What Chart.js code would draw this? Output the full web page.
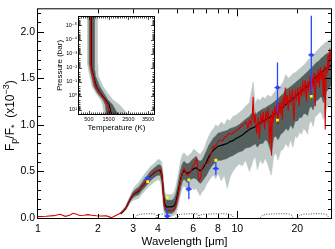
<!DOCTYPE html>
<html>
<head>
<meta charset="utf-8">
<script src="https://cdn.jsdelivr.net/npm/chart.js@4.4.1/dist/chart.umd.min.js"></script>
<style>
html, body { margin: 0; padding: 0; background: #fff; }
#wrap { position: relative; width: 335px; height: 249px; }
#main { position: absolute; left: 0; top: 0; }
#inset { position: absolute; left: 50px; top: 10px; }
</style>
</head>
<body>
<div id="wrap">
<canvas id="main" width="335" height="249"></canvas>
<canvas id="inset" width="110" height="126"></canvas>
</div>
<script>
// best-fit model spectrum (red)
const wlModel = [
    1.00, 1.10, 1.20, 1.29, 1.37, 1.44, 1.50, 1.56, 1.62, 1.70,
    1.78, 1.86, 1.96, 2.08, 2.20, 2.28, 2.33, 2.40, 2.47, 2.56,
    2.66, 2.75, 2.82, 2.88, 2.93, 3.00, 3.08, 3.16, 3.25, 3.35,
    3.45, 3.55, 3.65, 3.75, 3.85, 3.97, 4.06, 4.13, 4.18, 4.22,
    4.26, 4.30, 4.36, 4.45, 4.55, 4.65, 4.75, 4.85,
    4.92, 4.98, 5.05, 5.12, 5.19, 5.27, 5.35, 5.42, 5.50, 5.58,
    5.66, 5.75, 5.85, 5.95, 6.05, 6.16, 6.25, 6.33, 6.42, 6.52,
    6.62, 6.75, 6.95, 7.10, 7.25, 7.40, 7.55, 7.70, 7.90, 8.07,
    8.25, 8.45, 8.65, 8.87, 9.10, 9.35, 9.60, 9.90, 10.2, 10.5,
    10.8, 11.1,
    11.3, 11.5, 11.7, 11.9, 12.0, 12.15, 12.3, 12.5, 12.7, 12.9,
    13.1, 13.3, 13.5, 13.7, 13.9, 14.1, 14.3, 14.5, 14.7, 14.85,
    15.0, 15.2, 15.4, 15.6, 15.8, 16.0, 16.2, 16.4, 16.6, 16.8,
    17.0, 17.2, 17.4, 17.6, 17.8, 18.0, 18.3, 18.6, 18.9, 19.2,
    19.5, 19.8, 20.1, 20.4, 20.7, 21.0, 21.3, 21.6, 21.9, 22.2,
    22.5, 22.8, 23.1, 23.4, 23.7, 24.0, 24.3, 24.6, 24.9, 25.2,
    25.5, 25.8, 26.1, 26.4, 26.7, 27.0, 27.3, 27.6, 27.9, 28.2,
    28.5, 28.8, 29.1, 29.5
];
const fluxModel = [
    0.015, 0.018, 0.025, 0.040, 0.018, 0.030, 0.050, 0.040, 0.027, 0.030,
    0.036, 0.030, 0.024, 0.022, 0.024, 0.012, 0.003, 0.015, 0.030, 0.045,
    0.070, 0.100, 0.140, 0.185, 0.220, 0.255, 0.275, 0.290, 0.310, 0.350,
    0.380, 0.420, 0.445, 0.475, 0.495, 0.505, 0.520, 0.520, 0.470, 0.380,
    0.230, 0.130, 0.095, 0.085, 0.080, 0.080, 0.082, 0.100,
    0.130, 0.190, 0.250, 0.330, 0.400, 0.460, 0.520, 0.530, 0.500, 0.460,
    0.460, 0.480, 0.500, 0.550, 0.570, 0.600, 0.640, 0.550, 0.400, 0.420,
    0.520, 0.570, 0.580, 0.590, 0.620, 0.700, 0.770, 0.760, 0.800, 0.830,
    0.840, 0.830, 0.870, 0.880, 0.910, 0.900, 0.920, 0.940, 0.960, 0.990,
    1.010, 1.030,
    0.96, 1.05, 1.00, 1.12, 1.30, 1.02, 1.10, 0.90, 1.08, 0.85,
    1.10, 1.02, 1.14, 0.95, 1.15, 1.05, 1.18, 0.80, 1.12, 0.67,
    1.15, 1.05, 1.20, 1.10, 1.22, 1.00, 1.24, 1.12, 1.26, 1.05,
    1.30, 1.18, 1.40, 1.22, 1.32, 1.15, 1.35, 1.25, 1.38, 1.05,
    1.36, 1.28, 1.40, 1.20, 1.42, 1.30, 1.45, 1.35, 1.48, 1.25,
    1.47, 1.38, 1.52, 1.30, 1.50, 1.42, 1.56, 1.20, 1.55, 1.45,
    1.60, 1.40, 1.62, 1.50, 1.58, 1.30, 1.64, 0.95, 1.62, 1.55,
    1.75, 1.58, 1.82, 1.68
];

// median model and 1 / 2 sigma envelopes
const wlBand = [
    2.6, 2.75, 2.9, 3.0, 3.1, 3.2, 3.3, 3.4, 3.5, 3.6,
    3.7, 3.8, 3.9, 4.0, 4.1, 4.17, 4.22, 4.27, 4.32, 4.4,
    4.55, 4.7, 4.82, 4.92, 5.0, 5.1, 5.2, 5.3, 5.4, 5.5,
    5.6, 5.75, 5.9, 6.05, 6.2, 6.35, 6.5, 6.65, 6.8, 7.0,
    7.2, 7.4, 7.6, 7.8, 8.0, 8.3, 8.6, 8.9, 9.2, 9.5,
    9.8, 10.2, 10.6, 11.0, 11.5, 12.0, 12.3, 12.6, 13.0, 13.4,
    13.8, 14.2, 14.8, 15.2, 15.6, 16.0, 16.5, 17.0, 17.5, 18.0,
    18.5, 19.0, 19.5, 20.0, 20.5, 21.0, 21.5, 22.0, 22.5, 23.0,
    23.5, 24.0, 24.5, 25.0, 25.5, 26.0, 26.5, 27.0, 27.5, 28.0,
    28.5, 29.0, 29.5
];
const bandMed = [
    0.045, 0.10, 0.20, 0.25, 0.27, 0.29, 0.33, 0.36, 0.40, 0.43,
    0.46, 0.48, 0.50, 0.51, 0.51, 0.47, 0.37, 0.23, 0.15, 0.12,
    0.12, 0.12, 0.13, 0.17, 0.24, 0.33, 0.42, 0.48, 0.51, 0.49,
    0.48, 0.49, 0.51, 0.53, 0.54, 0.52, 0.51, 0.52, 0.55, 0.60,
    0.66, 0.70, 0.73, 0.75, 0.77, 0.78, 0.79, 0.80, 0.82, 0.83,
    0.85, 0.87, 0.89, 0.92, 0.95, 0.97, 0.98, 1.00, 1.02, 1.04,
    1.05, 1.07, 1.09, 1.11, 1.13, 1.14, 1.17, 1.19, 1.22, 1.24,
    1.26, 1.28, 1.30, 1.32, 1.34, 1.36, 1.38, 1.40, 1.42, 1.44,
    1.46, 1.48, 1.50, 1.52, 1.53, 1.55, 1.57, 1.58, 1.60, 1.61,
    1.62, 1.63, 1.64
];
const darkLo = [
    0.040, 0.09, 0.18, 0.22, 0.24, 0.25, 0.29, 0.32, 0.35, 0.38,
    0.41, 0.43, 0.45, 0.46, 0.46, 0.40, 0.28, 0.14, 0.08, 0.05,
    0.05, 0.05, 0.07, 0.10, 0.16, 0.24, 0.33, 0.39, 0.42, 0.40,
    0.38, 0.40, 0.42, 0.43, 0.42, 0.40, 0.37, 0.39, 0.42, 0.46,
    0.51, 0.55, 0.58, 0.60, 0.62, 0.62, 0.63, 0.64, 0.66, 0.67,
    0.69, 0.71, 0.72, 0.75, 0.76, 0.78, 0.80, 0.76, 0.80, 0.80,
    0.84, 0.82, 0.70, 0.86, 0.88, 0.84, 0.90, 0.92, 0.96, 0.94,
    1.00, 0.96, 1.04, 1.04, 1.08, 1.08, 1.12, 1.12, 1.10, 1.18,
    1.20, 1.16, 1.24, 1.26, 1.27, 1.30, 1.30, 1.24, 1.30, 1.36,
    1.38, 1.40, 1.42
];
const darkHi = [
    0.055, 0.115, 0.22, 0.28, 0.31, 0.33, 0.37, 0.41, 0.44, 0.48,
    0.51, 0.53, 0.55, 0.57, 0.57, 0.54, 0.46, 0.32, 0.23, 0.19,
    0.19, 0.19, 0.21, 0.26, 0.33, 0.43, 0.52, 0.58, 0.61, 0.59,
    0.58, 0.59, 0.62, 0.64, 0.66, 0.62, 0.61, 0.62, 0.66, 0.72,
    0.78, 0.82, 0.86, 0.88, 0.91, 0.92, 0.93, 0.94, 0.96, 0.97,
    0.98, 1.00, 1.03, 1.06, 1.09, 1.14, 1.10, 1.13, 1.15, 1.17,
    1.18, 1.20, 1.22, 1.24, 1.26, 1.28, 1.31, 1.33, 1.38, 1.39,
    1.41, 1.43, 1.45, 1.47, 1.49, 1.51, 1.53, 1.55, 1.57, 1.59,
    1.61, 1.63, 1.65, 1.67, 1.68, 1.70, 1.72, 1.73, 1.75, 1.76,
    1.77, 1.78, 1.79
];
const lightLo = [
    0.035, 0.08, 0.16, 0.19, 0.20, 0.21, 0.25, 0.28, 0.31, 0.34,
    0.36, 0.38, 0.40, 0.41, 0.40, 0.33, 0.20, 0.08, 0.03, 0.02,
    0.02, 0.02, 0.03, 0.05, 0.10, 0.17, 0.26, 0.32, 0.35, 0.32,
    0.28, 0.30, 0.33, 0.30, 0.32, 0.28, 0.24, 0.28, 0.30, 0.36,
    0.40, 0.44, 0.46, 0.42, 0.48, 0.40, 0.46, 0.32, 0.44, 0.50,
    0.54, 0.58, 0.56, 0.62, 0.50, 0.62, 0.66, 0.52, 0.62, 0.58,
    0.64, 0.58, 0.46, 0.66, 0.70, 0.62, 0.72, 0.74, 0.80, 0.76,
    0.84, 0.76, 0.88, 0.86, 0.92, 0.90, 0.96, 0.94, 0.90, 1.02,
    1.04, 0.98, 1.08, 1.10, 1.12, 1.14, 1.12, 1.06, 1.10, 1.18,
    1.20, 1.21, 1.22
];
const lightHi = [
    0.065, 0.13, 0.24, 0.31, 0.35, 0.38, 0.42, 0.46, 0.50, 0.53,
    0.56, 0.58, 0.60, 0.63, 0.62, 0.60, 0.53, 0.38, 0.28, 0.25,
    0.25, 0.25, 0.28, 0.34, 0.42, 0.52, 0.62, 0.68, 0.70, 0.68,
    0.66, 0.68, 0.70, 0.74, 0.72, 0.70, 0.68, 0.71, 0.74, 0.82,
    0.88, 0.93, 0.96, 1.00, 0.98, 1.03, 1.00, 1.06, 1.04, 1.09,
    1.10, 1.13, 1.16, 1.20, 1.24, 1.46, 1.22, 1.28, 1.26, 1.30,
    1.28, 1.32, 1.30, 1.34, 1.37, 1.40, 1.42, 1.46, 1.54, 1.50,
    1.52, 1.55, 1.56, 1.58, 1.60, 1.62, 1.64, 1.66, 1.69, 1.71,
    1.73, 1.75, 1.77, 1.79, 1.81, 1.83, 1.85, 1.86, 1.88, 1.89,
    1.90, 1.91, 1.92
];

// observed eclipse depths and band-integrated model
const obsWl = [3.55, 4.45, 5.71, 7.8, 15.9, 23.5];
const obsFlux = [0.43, 0.02, 0.31, 0.53, 1.40, 1.75];
const obsErr = [0.02, 0.08, 0.11, 0.07, 0.27, 0.42];
const binWl = [3.55, 4.45, 5.71, 7.8, 15.9, 23.5];
const binFlux = [0.39, 0.22, 0.41, 0.62, 1.05, 1.305];

// filter transmission curves (dotted)
const filterResp = [0, 0.03, 0.041, 0.044, 0.047, 0.043, 0.03, 0];
const irac1Wl = [3.08, 3.15, 3.25, 3.45, 3.65, 3.85, 3.92, 3.98];
const irac2Wl = [3.9, 3.98, 4.1, 4.4, 4.7, 4.95, 5.02, 5.1];
const irac3Wl = [4.9, 5.0, 5.2, 5.6, 6.0, 6.3, 6.4, 6.5];
const irac4Wl = [6.3, 6.45, 6.8, 7.5, 8.3, 9.0, 9.4, 9.6];
const irs16Wl = [13.0, 13.4, 14.0, 15.5, 17.0, 18.2, 18.7, 19.0];
const mips24Wl = [20.0, 20.6, 21.5, 23.5, 25.5, 27.5, 28.3, 28.8];

const xTickVals = [1, 2, 3, 4, 5, 6, 7, 8, 9, 10, 20];
const xTickLabels = [1, 2, 3, 4, 6, 8, 10, 20];
const yTickVals = [0, 0.5, 1.0, 1.5, 2.0];

// inset: temperature-pressure profiles
const pressure = [2.5e-6, 1e-5, 1e-4, 1e-3, 6e-3, 1.6e-2, 4e-2, 0.22, 0.65, 1.95, 4.4, 20];
const bestT = [590, 590, 590, 592, 600, 640, 715, 835, 1050, 1300, 1465, 1520];
const medT = [620, 620, 620, 622, 630, 670, 745, 880, 1090, 1360, 1530, 1640];
const darkLoT = [520, 520, 520, 522, 530, 570, 635, 750, 930, 1215, 1330, 1385];
const darkHiT = [780, 780, 780, 785, 800, 810, 835, 1050, 1250, 1465, 1700, 1965];
const lightLoT = [430, 430, 430, 432, 440, 480, 550, 665, 850, 1100, 1200, 1265];
const lightHiT = [940, 940, 940, 945, 960, 965, 980, 1215, 1450, 1715, 2050, 2465];
const tTickVals = [500, 1500, 2500, 3500];
const pTickVals = [1e-5, 1e-4, 1e-3, 1e-2, 1e-1, 1, 10];

const FONT = '"Liberation Sans", Arial, Helvetica, sans-serif';
Chart.defaults.font.family = FONT;
Chart.defaults.color = '#000';

const DARK = '#54605e';
const LIGHT = '#bec8c7';

const xy = (xs, ys) => xs.map((v, i) => ({ x: v, y: ys[i] }));

function bandLine(data, color, fillPrev, order) {
    return {
        data: data, borderColor: color, borderWidth: 0.6, pointRadius: 0,
        fill: fillPrev ? '-1' : false, backgroundColor: color, order: order
    };
}

function filterLine(wl) {
    return {
        data: xy(wl, filterResp), borderColor: '#333', borderWidth: 0.9,
        borderDash: [1, 1.5], pointRadius: 0, order: 6
    };
}

// inward ticks + frame, IDL style
const mainFrame = {
    id: 'mainFrame',
    afterDraw(chart) {
        const { ctx, chartArea: a, scales: { x, y } } = chart;
        ctx.save();
        ctx.strokeStyle = '#000';
        ctx.lineWidth = 1;
        ctx.strokeRect(a.left - 0.5, a.top - 0.5, a.right - a.left + 1, a.bottom - a.top + 1);
        ctx.beginPath();
        for (let i = 1; i <= 22; i++) {
            const py = Math.round(y.getPixelForValue(i / 10)) + 0.5;
            const len = i % 5 === 0 ? 6 : 3;
            ctx.moveTo(a.left, py); ctx.lineTo(a.left + len, py);
            ctx.moveTo(a.right, py); ctx.lineTo(a.right - len, py);
        }
        xTickVals.forEach(v => {
            if (v === 1) return;
            const px = Math.round(x.getPixelForValue(v)) + 0.5;
            const len = v === 10 ? 7 : 4;
            ctx.moveTo(px, a.bottom); ctx.lineTo(px, a.bottom - len);
            ctx.moveTo(px, a.top); ctx.lineTo(px, a.top + len);
        });
        ctx.stroke();

        // axis titles
        ctx.fillStyle = '#000';
        ctx.textAlign = 'center';
        ctx.textBaseline = 'middle';
        ctx.font = '11.5px ' + FONT;
        ctx.fillText('Wavelength [\u03bcm]', (a.left + a.right) / 2, 242);

        const parts = [
            ['F', 12, 0], ['p', 9, 3], ['/F', 12, 0], ['*', 9, 3],
            ['  (x10', 12, 0], ['\u22123', 9, -5], [')', 12, 0]
        ];
        let total = 0;
        parts.forEach(p => { ctx.font = p[1] + 'px ' + FONT; total += ctx.measureText(p[0]).width; });
        ctx.translate(14, (a.top + a.bottom) / 2 + 2);
        ctx.rotate(-Math.PI / 2);
        ctx.textAlign = 'left';
        ctx.textBaseline = 'alphabetic';
        let cx = -total / 2;
        parts.forEach(p => {
            ctx.font = p[1] + 'px ' + FONT;
            ctx.fillText(p[0], cx, p[2]);
            cx += ctx.measureText(p[0]).width;
        });
        ctx.restore();
    }
};

const errorBars = {
    id: 'errorBars',
    afterDatasetDraw(chart, args) {
        if (args.index !== 2) return;
        const { ctx, chartArea: a, scales: { x, y } } = chart;
        ctx.save();
        ctx.beginPath();
        ctx.rect(a.left, a.top, a.right - a.left, a.bottom - a.top);
        ctx.clip();
        ctx.strokeStyle = '#2a46ff';
        ctx.lineWidth = 1.3;
        obsWl.forEach((w, i) => {
            const px = x.getPixelForValue(w);
            const py = y.getPixelForValue(obsFlux[i]);
            ctx.beginPath();
            ctx.moveTo(px, y.getPixelForValue(obsFlux[i] - obsErr[i]));
            ctx.lineTo(px, y.getPixelForValue(obsFlux[i] + obsErr[i]));
            ctx.moveTo(px - 3, py);
            ctx.lineTo(px + 3, py);
            ctx.stroke();
        });
        ctx.restore();
    }
};

new Chart(document.getElementById('main'), {
    type: 'line',
    data: {
        datasets: [
            { data: xy(binWl, binFlux), showLine: false, pointStyle: 'rect', pointRadius: 2, backgroundColor: '#ffff00', borderWidth: 0, order: 0 },
            { data: xy(obsWl, obsFlux), showLine: false, pointRadius: 2, backgroundColor: '#2a46ff', borderWidth: 0, order: 1 },
            { data: xy(wlModel, fluxModel), borderColor: '#d40000', borderWidth: 1.1, pointRadius: 0, order: 2 },
            { data: xy(wlBand, bandMed), borderColor: '#000', borderWidth: 1.2, pointRadius: 0, order: 3 },
            bandLine(xy(wlBand, darkLo), DARK, false, 4),
            bandLine(xy(wlBand, darkHi), DARK, true, 4),
            bandLine(xy(wlBand, lightLo), LIGHT, false, 5),
            bandLine(xy(wlBand, lightHi), LIGHT, true, 5),
            filterLine(irac1Wl), filterLine(irac2Wl), filterLine(irac3Wl),
            filterLine(irac4Wl), filterLine(irs16Wl), filterLine(mips24Wl)
        ]
    },
    options: {
        responsive: false,
        devicePixelRatio: 1,
        animation: false,
        events: [],
        layout: { padding: { left: 0, right: 2, top: 1, bottom: 0 } },
        plugins: { legend: { display: false }, tooltip: { enabled: false } },
        scales: {
            x: {
                type: 'logarithmic', min: 1, max: 29.5,
                afterBuildTicks: s => { s.ticks = xTickVals.map(v => ({ value: v })); },
                afterFit: s => { s.height = 31; },
                grid: { display: false, drawTicks: false },
                border: { display: false },
                ticks: {
                    autoSkip: false, maxRotation: 0, padding: 5,
                    font: { size: 10.5 },
                    callback: v => xTickLabels.includes(v) ? String(v) : ''
                }
            },
            y: {
                min: 0, max: 2.24,
                afterBuildTicks: s => { s.ticks = yTickVals.map(v => ({ value: v })); },
                afterFit: s => { s.width = 38; },
                grid: { display: false, drawTicks: false },
                border: { display: false },
                ticks: { padding: 3, font: { size: 10.5 }, callback: v => v.toFixed(1) }
            }
        }
    },
    plugins: [errorBars, mainFrame]
});

// inset
const sup = { '-': '\u207b', '0': '\u2070', '1': '\u00b9', '2': '\u00b2', '3': '\u00b3', '4': '\u2074', '5': '\u2075' };

function polygon(lo, hi) {
    const left = pressure.map((p, i) => ({ x: lo[i], y: p }));
    const right = pressure.map((p, i) => ({ x: hi[i], y: p })).reverse();
    return left.concat(right);
}

const insetFrame = {
    id: 'insetFrame',
    beforeDraw(chart) {
        const { ctx, chartArea: a } = chart;
        ctx.save();
        ctx.fillStyle = '#fff';
        ctx.fillRect(a.left, a.top, a.right - a.left, a.bottom - a.top);
        ctx.restore();
    },
    afterDraw(chart) {
        const { ctx, chartArea: a, scales: { x, y } } = chart;
        ctx.save();
        ctx.strokeStyle = '#000';
        ctx.lineWidth = 1;
        ctx.strokeRect(a.left - 0.5, a.top - 0.5, a.right - a.left + 1, a.bottom - a.top + 1);
        ctx.beginPath();
        for (let t = 100; t < 3800; t += 100) {
            const px = Math.round(x.getPixelForValue(t)) + 0.5;
            const len = (t - 500) % 1000 === 0 ? 3 : 1.5;
            ctx.moveTo(px, a.bottom); ctx.lineTo(px, a.bottom - len);
            ctx.moveTo(px, a.top); ctx.lineTo(px, a.top + len);
        }
        for (let e = -6; e <= 1; e++) {
            for (let m = 1; m < 10; m++) {
                const v = m * Math.pow(10, e);
                if (v < y.min || v > y.max) continue;
                const py = Math.round(y.getPixelForValue(v)) + 0.5;
                const len = m === 1 ? 3 : 1.5;
                ctx.moveTo(a.left, py); ctx.lineTo(a.left + len, py);
                ctx.moveTo(a.right, py); ctx.lineTo(a.right - len, py);
            }
        }
        ctx.lineWidth = 0.7;
        ctx.stroke();

        ctx.fillStyle = '#000';
        ctx.textAlign = 'center';
        ctx.textBaseline = 'middle';
        ctx.font = '8px ' + FONT;
        ctx.fillText('Temperature (K)', (a.left + a.right) / 2, 117.5);
        ctx.translate(12, (a.top + a.bottom) / 2);
        ctx.rotate(-Math.PI / 2);
        ctx.textBaseline = 'alphabetic';
        ctx.fillText('Pressure (bar)', 0, 0);
        ctx.restore();
    }
};

new Chart(document.getElementById('inset'), {
    type: 'line',
    data: {
        datasets: [
            { data: pressure.map((p, i) => ({ x: bestT[i], y: p })), borderColor: '#e00000', borderWidth: 1.3, pointRadius: 0, order: 0 },
            { data: pressure.map((p, i) => ({ x: medT[i], y: p })), borderColor: '#000', borderWidth: 1, pointRadius: 0, order: 1 },
            { data: polygon(darkLoT, darkHiT), borderColor: DARK, borderWidth: 0.5, backgroundColor: DARK, fill: 'shape', pointRadius: 0, order: 2 },
            { data: polygon(lightLoT, lightHiT), borderColor: LIGHT, borderWidth: 0.5, backgroundColor: LIGHT, fill: 'shape', pointRadius: 0, order: 3 }
        ]
    },
    options: {
        responsive: false,
        devicePixelRatio: 1,
        animation: false,
        events: [],
        layout: { padding: { left: 0, right: 6, top: 7, bottom: 0 } },
        plugins: { legend: { display: false }, tooltip: { enabled: false } },
        scales: {
            x: {
                type: 'linear', min: 0, max: 3800,
                afterBuildTicks: s => { s.ticks = tTickVals.map(v => ({ value: v })); },
                afterFit: s => { s.height = 22; },
                grid: { display: false, drawTicks: false },
                border: { display: false },
                ticks: { autoSkip: false, maxRotation: 0, padding: 2, font: { size: 5.5 }, callback: v => String(v) }
            },
            y: {
                type: 'logarithmic', reverse: true, min: 2.5e-6, max: 20,
                afterBuildTicks: s => { s.ticks = pTickVals.map(v => ({ value: v })); },
                afterFit: s => { s.width = 29; },
                grid: { display: false, drawTicks: false },
                border: { display: false },
                ticks: {
                    padding: 2, font: { size: 5.5, family: '"Liberation Sans", "DejaVu Sans", sans-serif' },
                    callback: v => '10' + String(Math.round(Math.log10(v))).split('').map(c => sup[c]).join('')
                }
            }
        }
    },
    plugins: [insetFrame]
});
</script>
</body>
</html>
